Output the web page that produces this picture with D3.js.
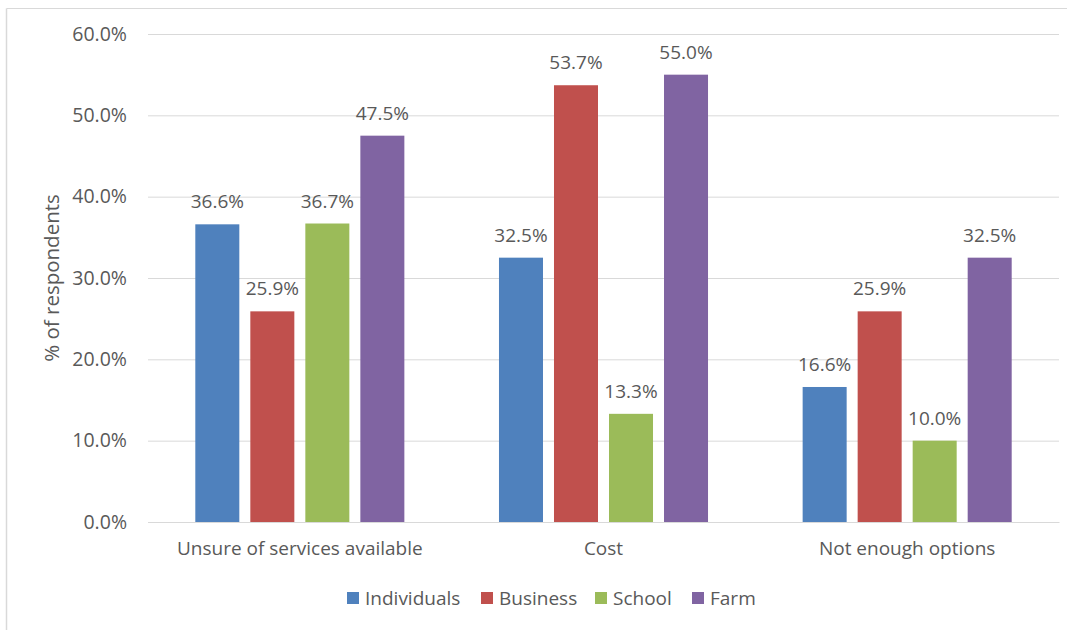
<!DOCTYPE html>
<html>
<head>
<meta charset="utf-8">
<script src="https://cdn.jsdelivr.net/npm/d3@7"></script>
<style>
  html, body { margin: 0; padding: 0; background: #fff; }
  svg text { font-family: "Open Sans", "Noto Sans", sans-serif; fill: #595959; }
</style>
</head>
<body>
<svg id="chart" width="1076" height="630"></svg>
<script>
// Barriers reported, share of respondents per group
const categories = ["Unsure of services available", "Cost", "Not enough options"];
const seriesNames = ["Individuals", "Business", "School", "Farm"];
const individuals = [36.6, 32.5, 16.6];
const business = [25.9, 53.7, 25.9];
const school = [36.7, 13.3, 10.0];
const farm = [47.5, 55.0, 32.5];
const colors = ["#4F81BD", "#C0504D", "#9BBB59", "#8064A2"];
const yTicks = [0, 10, 20, 30, 40, 50, 60];

const values = [individuals, business, school, farm];

const svg = d3.select("#chart");

// chart frame: top and left edges
svg.append("line")
  .attr("x1", 6.5).attr("y1", 8.5).attr("x2", 1067).attr("y2", 8.5)
  .attr("stroke", "#d9d9d9").attr("stroke-width", 1);
svg.append("line")
  .attr("x1", 6.5).attr("y1", 8.5).attr("x2", 6.5).attr("y2", 630)
  .attr("stroke", "#d9d9d9").attr("stroke-width", 1.5);

const plot = { left: 148, right: 1059, top: 34, bottom: 522 };

const y = d3.scaleLinear().domain([0, 60]).range([plot.bottom, plot.top]);

const x0 = d3.scaleBand().domain(categories)
  .range([plot.left, plot.right]).paddingInner(0).paddingOuter(0);

// bar width with gap width ~215% and overlap -25%
const bw = x0.bandwidth() / (4 + 3 * 0.25 + 2.15);
const gap = bw * 0.25;
const groupW = 4 * bw + 3 * gap;

// gridlines and value ticks
const yAxis = d3.axisLeft(y).tickValues(yTicks)
  .tickSize(-(plot.right - plot.left))
  .tickFormat(d => d.toFixed(1) + "%")
  .tickPadding(21);

const gy = svg.append("g")
  .attr("transform", `translate(${plot.left},0)`)
  .call(yAxis);
gy.select(".domain").remove();
gy.selectAll(".tick line").attr("stroke", "#d9d9d9").attr("stroke-width", 1);
gy.selectAll(".tick text")
  .style("font-size", "19.5px").attr("fill", "#595959");

// bars with value labels
categories.forEach((cat, ci) => {
  const gx = x0(cat) + (x0.bandwidth() - groupW) / 2;
  seriesNames.forEach((s, si) => {
    const v = values[si][ci];
    const bx = gx + si * (bw + gap);
    svg.append("rect")
      .attr("x", bx).attr("y", y(v))
      .attr("width", bw).attr("height", y(0) - y(v))
      .attr("fill", colors[si]);
    svg.append("text")
      .attr("x", bx + bw / 2).attr("y", y(v) - 16)
      .attr("text-anchor", "middle")
      .style("font-size", "19px")
      .text(v.toFixed(1) + "%");
  });
});

// category axis
const xAxis = d3.axisBottom(x0).tickSize(0).tickPadding(20);
const gx = svg.append("g")
  .attr("transform", `translate(0,${plot.bottom})`)
  .call(xAxis);
gx.select(".domain").attr("stroke", "#d9d9d9");
gx.selectAll(".tick text").style("font-size", "19px").attr("fill", "#595959");

// y axis title
svg.append("text")
  .attr("transform", `translate(59,${(plot.top + plot.bottom) / 2}) rotate(-90)`)
  .attr("text-anchor", "middle")
  .style("font-size", "20.5px")
  .text("% of respondents");

// legend
const legendX = [347, 481, 595, 692];
const legend = svg.append("g");
seriesNames.forEach((s, i) => {
  legend.append("rect")
    .attr("x", legendX[i]).attr("y", 592)
    .attr("width", 12).attr("height", 12)
    .attr("fill", colors[i]);
  legend.append("text")
    .attr("x", legendX[i] + 18).attr("y", 605)
    .style("font-size", "19px")
    .text(s);
});
</script>
</body>
</html>
